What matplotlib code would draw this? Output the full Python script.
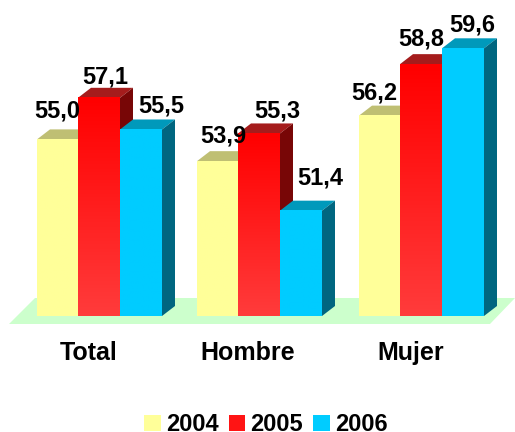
import numpy as np
import matplotlib
matplotlib.use("Agg")
import matplotlib.pyplot as plt
from matplotlib.colors import LinearSegmentedColormap
from matplotlib.patches import Patch

categories = ["Total", "Hombre", "Mujer"]
years = ["2004", "2005", "2006"]
values_2004 = [55.0, 53.9, 56.2]
values_2005 = [57.1, 55.3, 58.8]
values_2006 = [55.5, 51.4, 59.6]
series = [values_2004, values_2005, values_2006]

plt.rcParams["font.family"] = ["Liberation Sans", "DejaVu Sans"]
plt.rcParams["font.weight"] = "bold"

# y scale
BASE = 46.08
PX_PER_UNIT = 19.8
DEPTH_X = 13
DEPTH_Y = 10 / PX_PER_UNIT

# front colour (top, bottom), top face, side face
front = [("#FFFF99", "#FFFF99"), ("#FF0000", "#FF3B3B"), ("#00CCFF", "#00CCFF")]
top_face = ["#BFBF73", "#A51C1C", "#0099BB"]
side_face = ["#999966", "#780606", "#006680"]

group_left = [37, 197, 359]
bar_w = [41, 42, 42]
# label offsets in pixels from bar centre / bar top
label_off = [
    [(0, 28), (6, 21), (20, 23)],
    [(6, 25), (18, 22), (19, 33)],
    [(-5, 23), (0, 25), (9, 23)],
]

fig = plt.figure(figsize=(5.15, 4.32), dpi=100)
ax = fig.add_axes([0, 0, 1, 1])
ax.axis("off")

# floor
floor_x = [9, 490, 515, 35]
floor_y = [BASE - 8 / PX_PER_UNIT, BASE - 8 / PX_PER_UNIT,
           BASE + 18 / PX_PER_UNIT, BASE + 18 / PX_PER_UNIT]
ax.fill(floor_x, floor_y, color="#CCFFCC", lw=0, zorder=1)

z = 2
for g, left in enumerate(group_left):
    x0 = left
    for s, vals in enumerate(series):
        v = vals[g]
        x1 = x0 + bar_w[s]
        # top and side faces first, front goes over them
        ax.fill([x0, x1, x1 + DEPTH_X, x0 + DEPTH_X],
                [v, v, v + DEPTH_Y, v + DEPTH_Y],
                color=top_face[s], lw=0, zorder=z)
        ax.fill([x1, x1 + DEPTH_X, x1 + DEPTH_X, x1],
                [BASE, BASE + DEPTH_Y, v + DEPTH_Y, v],
                color=side_face[s], lw=0, zorder=z)
        cmap = LinearSegmentedColormap.from_list("f", [front[s][0], front[s][1]])
        grad = np.linspace(0, 1, 64).reshape(-1, 1)
        ax.imshow(grad, extent=(x0, x1, BASE, v), origin="upper", aspect="auto",
                  cmap=cmap, zorder=z + 0.5, interpolation="bilinear")
        x0 = x1
        z += 1

ax.set_xlim(0, 515)
ax.set_ylim(BASE - 116 / PX_PER_UNIT, BASE + 316 / PX_PER_UNIT)

# value labels
for g, left in enumerate(group_left):
    x0 = left
    for s, vals in enumerate(series):
        xc = x0 + bar_w[s] / 2
        dx, dy = label_off[g][s]
        ax.annotate(f"{vals[g]:.1f}".replace(".", ","), (xc, vals[g]),
                    xytext=(dx, dy), textcoords="offset pixels",
                    ha="center", va="center", fontsize=17, color="#000000",
                    zorder=100)
        x0 += bar_w[s]

# category labels
cat_x = [89, 248, 411]
for cx, name in zip(cat_x, categories):
    ax.text(cx, BASE - 37 / PX_PER_UNIT, name, ha="center", va="center",
            fontsize=18, color="#000000", zorder=100)

handles = [Patch(color=front[i][0], lw=0, label=years[i]) for i in range(3)]
handles[1].set_color("#FF1414")
leg = ax.legend(handles=handles, ncols=3, frameon=False, fontsize=17,
                loc="lower left", bbox_to_anchor=(144 / 515, -0.01),
                borderaxespad=0, borderpad=0, handlelength=0.7, handleheight=0.7,
                handletextpad=0.22, columnspacing=0.44)

fig.savefig("out.png", dpi=100)
